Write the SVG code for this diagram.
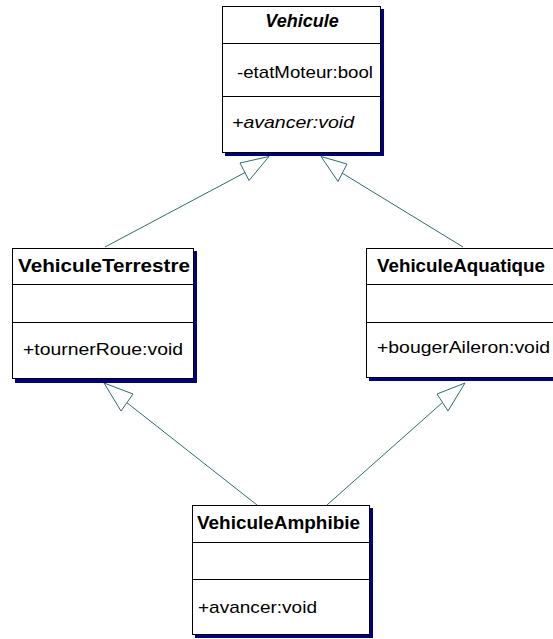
<svg xmlns="http://www.w3.org/2000/svg" width="553" height="639" viewBox="0 0 553 639">
  <style>
    .shadow { fill: #000080; }
    .box { fill: #ffffff; stroke: #000000; stroke-width: 1; }
    .sep { stroke: #000000; stroke-width: 1; }
    .title { font-family: "Liberation Sans", Arial, sans-serif; font-size: 18px; font-weight: bold; fill: #000000; }
    .member { font-family: "Liberation Sans", Arial, sans-serif; font-size: 17px; fill: #000000; }
    .abstract { font-style: italic; }
    .link { fill: none; stroke: #2d6e6e; stroke-width: 1; }
    .head { fill: #ffffff; stroke: #2d6e6e; stroke-width: 1; stroke-linejoin: miter; }
  </style>

  <!-- generalisation connectors -->
  <g id="connectors">
    <line class="link" x1="105" y1="247" x2="246" y2="172"/>
    <polygon class="head" points="269,156.5 240,163 249,180.5"/>
    <line class="link" x1="463" y1="247" x2="342" y2="173"/>
    <polygon class="head" points="321,156.5 347,164 338,181.5"/>
    <line class="link" x1="257" y1="505" x2="126" y2="402"/>
    <polygon class="head" points="104,383 133,394 121,411"/>
    <line class="link" x1="327" y1="505" x2="443" y2="402"/>
    <polygon class="head" points="465,383 437,394 448,411"/>
  </g>

  <!-- abstract base class -->
  <g id="Vehicule">
    <rect class="shadow" x="225" y="9" width="159" height="147"/>
    <rect class="box" x="222.5" y="6.5" width="158" height="146"/>
    <line class="sep" x1="222.5" y1="43.5" x2="380.5" y2="43.5"/>
    <line class="sep" x1="222.5" y1="96.5" x2="380.5" y2="96.5"/>
    <text class="title abstract" x="302" y="27" text-anchor="middle">Vehicule</text>
    <text class="member" x="237" y="78" textLength="136" lengthAdjust="spacingAndGlyphs">-etatMoteur:bool</text>
    <text class="member abstract" x="232" y="128" textLength="122" lengthAdjust="spacingAndGlyphs">+avancer:void</text>
  </g>

  <g id="VehiculeTerrestre">
    <rect class="shadow" x="15" y="251" width="182" height="132"/>
    <rect class="box" x="12.5" y="248.5" width="181" height="130"/>
    <line class="sep" x1="12.5" y1="284.5" x2="193.5" y2="284.5"/>
    <line class="sep" x1="12.5" y1="322.5" x2="193.5" y2="322.5"/>
    <text class="title" x="18" y="272" textLength="172" lengthAdjust="spacingAndGlyphs">VehiculeTerrestre</text>
    <text class="member" x="23" y="355" textLength="160" lengthAdjust="spacingAndGlyphs">+tournerRoue:void</text>
  </g>

  <g id="VehiculeAquatique">
    <rect class="shadow" x="369" y="251" width="190" height="130"/>
    <rect class="box" x="366.5" y="248.5" width="190" height="129"/>
    <line class="sep" x1="366.5" y1="284.5" x2="556.5" y2="284.5"/>
    <line class="sep" x1="366.5" y1="322.5" x2="556.5" y2="322.5"/>
    <text class="title" x="377" y="272" textLength="168" lengthAdjust="spacingAndGlyphs">VehiculeAquatique</text>
    <text class="member" x="377" y="353" textLength="173" lengthAdjust="spacingAndGlyphs">+bougerAileron:void</text>
  </g>

  <g id="VehiculeAmphibie">
    <rect class="shadow" x="195" y="508" width="178" height="130"/>
    <rect class="box" x="192.5" y="505.5" width="177" height="129"/>
    <line class="sep" x1="192.5" y1="542.5" x2="369.5" y2="542.5"/>
    <line class="sep" x1="192.5" y1="579.5" x2="369.5" y2="579.5"/>
    <text class="title" x="197" y="529" textLength="163" lengthAdjust="spacingAndGlyphs">VehiculeAmphibie</text>
    <text class="member" x="198" y="613" textLength="119" lengthAdjust="spacingAndGlyphs">+avancer:void</text>
  </g>
</svg>
